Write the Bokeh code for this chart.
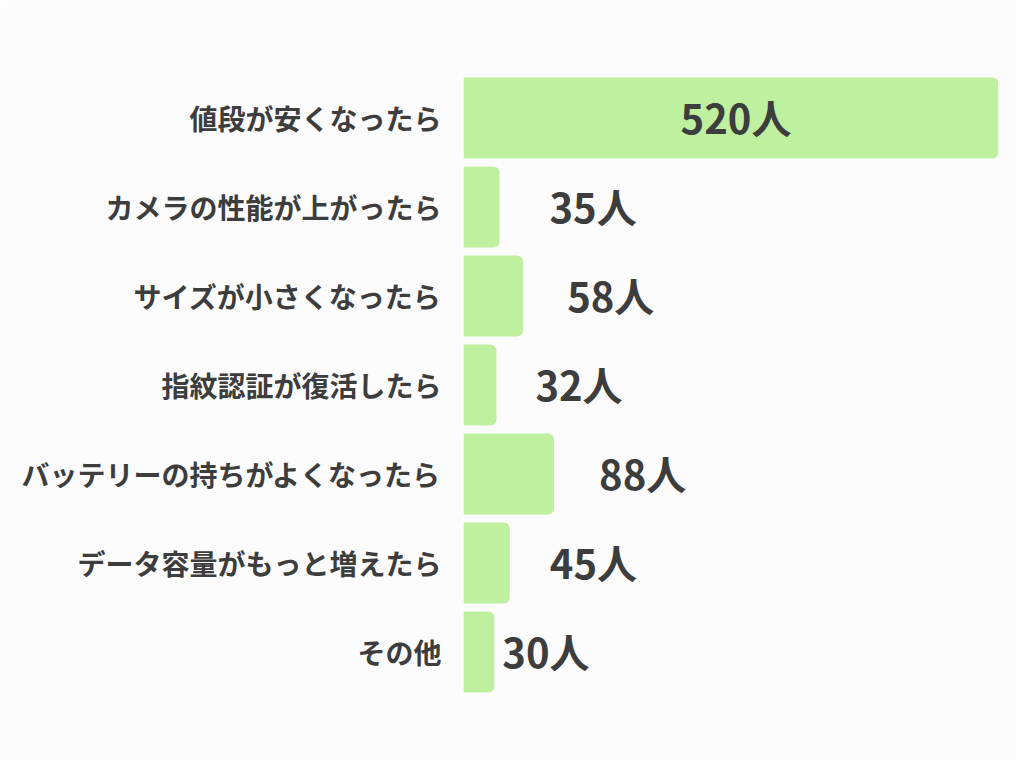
from bokeh.plotting import figure
from bokeh.models import ColumnDataSource, FactorRange, Range1d
from bokeh.core.properties import value
from bokeh.embed import file_html
from bokeh.resources import INLINE

categories = ["値段が安くなったら", "カメラの性能が上がったら", "サイズが小さくなったら",
              "指紋認証が復活したら", "バッテリーの持ちがよくなったら",
              "データ容量がもっと増えたら", "その他"]
counts = [520, 35, 58, 32, 88, 45, 30]
unit = "人"

# label placement style (pixels right of bar end); first label sits inside its bar
label_offsets = [5, 50, 44, 39, 45, 40, 8]

FONT = "Noto Sans CJK JP"
TEXT_COLOR = "#3d3d3d"
BAR_COLOR = "#bff0a0"
BG = "#fcfcfc"

inside = [i == 0 for i in range(len(counts))]
label_x = [c / 2 if ins else c for c, ins in zip(counts, inside)]
label_align = ["center" if ins else "left" for ins in inside]

src = ColumnDataSource(dict(
    cat=categories, count=counts,
    lx=label_x, lalign=label_align, loff=label_offsets,
    ltext=[f"{c}{unit}" for c in counts],
))

p = figure(width=1016, height=760, output_backend="svg", toolbar_location=None,
           y_range=FactorRange(*reversed(categories), range_padding=0),
           x_range=Range1d(0, 520),
           min_border_left=463, min_border_right=18,
           min_border_top=73, min_border_bottom=64,
           background_fill_color=BG, border_fill_color=BG, outline_line_color=None)

p.hbar(y="cat", right="count", left=0, height=0.91, source=src,
       fill_color=BAR_COLOR, line_color=None, border_radius=(0, 6, 6, 0))

p.text(x="lx", y="cat", text="ltext", source=src, x_offset="loff", y_offset=-1,
       text_align="lalign", text_baseline="middle",
       text_font=value(FONT), text_font_style="bold", text_font_size="40px",
       text_color=TEXT_COLOR)

p.xaxis.visible = False
p.xgrid.visible = False
p.ygrid.visible = False
ax = p.yaxis[0]
ax.axis_line_color = None
ax.major_tick_line_color = None
ax.minor_tick_line_color = None
ax.major_label_standoff = 16
ax.major_label_text_font = FONT
ax.major_label_text_font_style = "bold"
ax.major_label_text_font_size = "28px"
ax.major_label_text_color = TEXT_COLOR

open("out.html", "w").write(file_html(p, INLINE))
